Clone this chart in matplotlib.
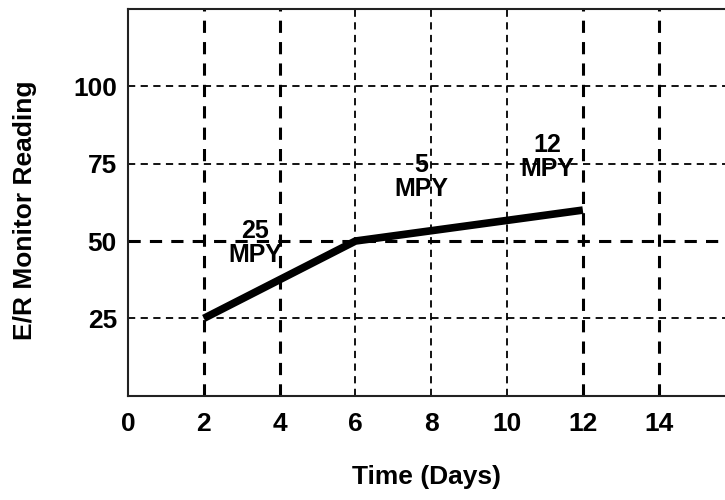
import matplotlib
matplotlib.use("Agg")
import matplotlib.pyplot as plt

days = [2, 6, 12]
readings = [25, 50, 60]
x_ticks = [0, 2, 4, 6, 8, 10, 12, 14]
y_ticks = [25, 50, 75, 100]
bold_x = [2, 4, 12, 14]
bold_y = [50]
labels = ["25\nMPY", "5\nMPY", "12\nMPY"]
label_x = [3.35, 7.73, 11.06]
label_y = [49.4, 70.6, 77.0]

plt.rcParams['font.family'] = ['Liberation Sans', 'DejaVu Sans']
fig = plt.figure(figsize=(7.25, 5.0), dpi=100)
ax = fig.add_axes([0.1766, 0.2086, 0.8234, 0.7734])
ax.set_xlim(0, 15.75)
ax.set_ylim(0, 125)

for xv in x_ticks[1:]:
    lw = 2.2 if xv in bold_x else 1.3
    ax.axvline(xv, color='black', lw=lw, ls=(0, (4, 3)), zorder=1)
for yv in y_ticks:
    lw = 2.2 if yv in bold_y else 1.3
    ax.axhline(yv, color='black', lw=lw, ls=(0, (4, 3)), zorder=1)

ax.plot(days, readings, color='black', lw=5.5, solid_capstyle='butt', zorder=3)

for t, xv, yv in zip(labels, label_x, label_y):
    ax.text(xv, yv, t, ha='center', va='center', fontsize=18, fontweight='bold',
            linespacing=1.0, zorder=4)

ax.set_xticks(x_ticks)
ax.set_yticks(y_ticks)
ax.tick_params(length=0, labelsize=19)
ax.tick_params(axis='x', pad=12)
ax.tick_params(axis='y', pad=8)
for lab in ax.get_xticklabels() + ax.get_yticklabels():
    lab.set_fontweight('bold')
ax.spines['right'].set_visible(False)
for s in ['left', 'top', 'bottom']:
    ax.spines[s].set_linewidth(1.5)
    ax.spines[s].set_color('#222222')

ax.set_xlabel("Time (Days)", fontsize=19, fontweight='bold')
ax.set_ylabel("E/R Monitor Reading", fontsize=19, fontweight='bold')
ax.xaxis.set_label_coords(0.5, -0.178)
ax.yaxis.set_label_coords(-0.152, 0.48)

fig.savefig("out.png", dpi=100)
